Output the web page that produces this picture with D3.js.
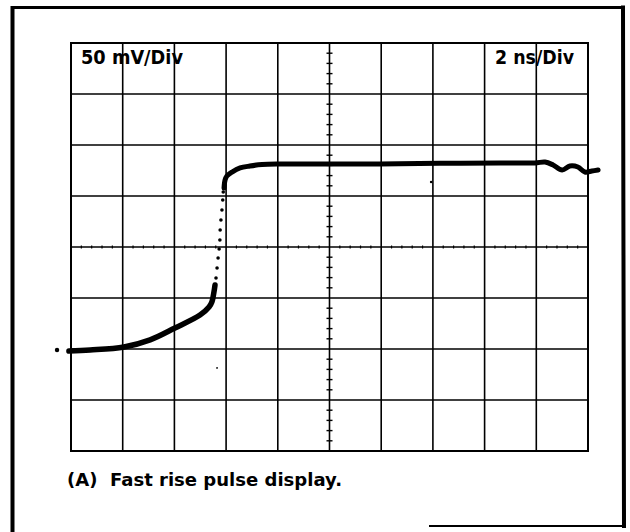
<!DOCTYPE html>
<html>
<head>
<meta charset="utf-8">
<script src="https://cdn.jsdelivr.net/npm/d3@7"></script>
<style>
  html, body { margin: 0; padding: 0; background: #fff; }
  svg { display: block; }
  text { font-family: "DejaVu Sans", "Liberation Sans", sans-serif; font-weight: bold; fill: #000; }
</style>
</head>
<body>
<script>
// Graticule: 10 horizontal divisions at 2 ns/Div, 8 vertical divisions at 50 mV/Div
const timeTicks = [0, 2, 4, 6, 8, 10, 12, 14, 16, 18, 20];           // ns
const voltTicks = [-200, -150, -100, -50, 0, 50, 100, 150, 200];     // mV
const minorTimeStep = 0.4;   // ns, 5 minor marks per division on the centre line
const minorVoltStep = 10;    // mV

// Trace: foot of the pulse (solid), the fast edge (sparse dots), and the top (solid)
const footTime = [-0.08, 0.74, 2.05, 3.06, 4.02, 4.99, 5.34, 5.45, 5.53, 5.57];
const footVolt = [-102, -101, -98, -91, -79.4, -66.7, -58.8, -53.9, -44.1, -37.3];

const edgeTime = [5.61, 5.65, 5.69, 5.73, 5.76, 5.77, 5.80, 5.84, 5.87, 5.89];
const edgeVolt = [-30.4, -20.6, -10.8, -2, 6.9, 16.7, 26.5, 36.3, 46.1, 53.9];

const plateauTime = [5.92, 5.96, 6.03, 6.23, 6.54, 6.92, 7.39, 8.09, 9.63, 11.95, 14.27, 16.60, 17.95, 18.34, 18.65, 19.00, 19.30, 19.61, 19.88, 20.15, 20.39];
const plateauVolt = [57.8, 65.7, 69.6, 73.5, 77.5, 79.4, 80.9, 81.4, 81.4, 81.4, 82.0, 82.4, 82.4, 83.3, 80.4, 75.5, 79.4, 78.4, 73.5, 74.5, 75.5];

// Isolated specks on the screen
const speckTime = [-0.54, 5.65, 13.93];
const speckVolt = [-101, -118.6, 63.7];
const speckSize = [2.2, 0.9, 1.2];

const W = 630, H = 532;
const svg = d3.select("body").append("svg").attr("width", W).attr("height", H);

// Outer frame
const frame = svg.append("g").attr("stroke", "#000").attr("fill", "none").attr("stroke-linecap", "square");
frame.append("line").attr("x1", 12.5).attr("y1", 532).attr("x2", 12.5).attr("y2", 8).attr("stroke-width", 4);
frame.append("line").attr("x1", 13).attr("y1", 7.5).attr("x2", 622).attr("y2", 7.5).attr("stroke-width", 3);
frame.append("line").attr("x1", 623).attr("y1", 7.5).attr("x2", 624).attr("y2", 526).attr("stroke-width", 4);
frame.append("line").attr("x1", 430).attr("y1", 526).attr("x2", 624).attr("y2", 526).attr("stroke-width", 2);

const x = d3.scaleLinear().domain([0, 20]).range([71, 588]);
const y = d3.scaleLinear().domain([-200, 200]).range([451, 43]);

// Grid lines
const grid = svg.append("g").attr("stroke", "#000");
grid.selectAll("line.v").data(timeTicks).join("line")
  .attr("class", "v")
  .attr("x1", d => x(d)).attr("x2", d => x(d))
  .attr("y1", y(200)).attr("y2", y(-200))
  .attr("stroke-width", (d, i) => (i === 0 || i === timeTicks.length - 1) ? 2 : 1.6);
grid.selectAll("line.h").data(voltTicks).join("line")
  .attr("class", "h")
  .attr("y1", d => y(d)).attr("y2", d => y(d))
  .attr("x1", x(0) - 1).attr("x2", x(20) + 1)
  .attr("stroke-width", (d, i) => (i === 0 || i === voltTicks.length - 1) ? 2 : 1.6);

// Minor marks on the centre axes
const minorT = d3.range(0, 20 + 1e-9, minorTimeStep).filter(t => Math.abs(t / 2 - Math.round(t / 2)) > 1e-6);
const minorV = d3.range(-200, 200 + 1e-9, minorVoltStep).filter(v => v % 50 !== 0);
grid.selectAll("line.mt").data(minorV).join("line")
  .attr("class", "mt")
  .attr("x1", x(10) - 3).attr("x2", x(10) + 3)
  .attr("y1", d => y(d)).attr("y2", d => y(d))
  .attr("stroke-width", 1.4);
grid.selectAll("line.mv").data(minorT).join("line")
  .attr("class", "mv")
  .attr("y1", y(0) - 1.5).attr("y2", y(0) + 1.5)
  .attr("x1", d => x(d)).attr("x2", d => x(d))
  .attr("stroke-width", 1.2);

// Scale labels
svg.append("text").attr("x", 81).attr("y", 64)
  .attr("font-size", 19.5).attr("textLength", 102).attr("lengthAdjust", "spacingAndGlyphs")
  .text("50 mV/Div");
svg.append("text").attr("x", 495).attr("y", 64)
  .attr("font-size", 19.5).attr("textLength", 79).attr("lengthAdjust", "spacingAndGlyphs")
  .text("2 ns/Div");

// Caption
svg.append("text").attr("x", 67).attr("y", 486)
  .attr("font-size", 18).attr("textLength", 275).attr("lengthAdjust", "spacingAndGlyphs")
  .attr("xml:space", "preserve")
  .text("(A)  Fast rise pulse display.");

// Trace
const line = d3.line()
  .x(d => x(d[0])).y(d => y(d[1]))
  .curve(d3.curveCatmullRom.alpha(0.5));

const footPts = footTime.map((t, i) => [t, footVolt[i]]);
const plateauPts = plateauTime.map((t, i) => [t, plateauVolt[i]]);

svg.append("path").attr("d", line(footPts))
  .attr("fill", "none").attr("stroke", "#000").attr("stroke-width", 5.5)
  .attr("stroke-linecap", "round").attr("stroke-linejoin", "round");
svg.append("path").attr("d", line(plateauPts))
  .attr("fill", "none").attr("stroke", "#000").attr("stroke-width", 5)
  .attr("stroke-linecap", "round").attr("stroke-linejoin", "round");

svg.selectAll("circle.edge").data(edgeTime).join("circle")
  .attr("class", "edge")
  .attr("cx", d => x(d)).attr("cy", (d, i) => y(edgeVolt[i]))
  .attr("r", 1.8).attr("fill", "#000");

svg.selectAll("circle.speck").data(speckTime).join("circle")
  .attr("class", "speck")
  .attr("cx", d => x(d)).attr("cy", (d, i) => y(speckVolt[i]))
  .attr("r", (d, i) => speckSize[i]).attr("fill", "#000");
</script>
</body>
</html>
